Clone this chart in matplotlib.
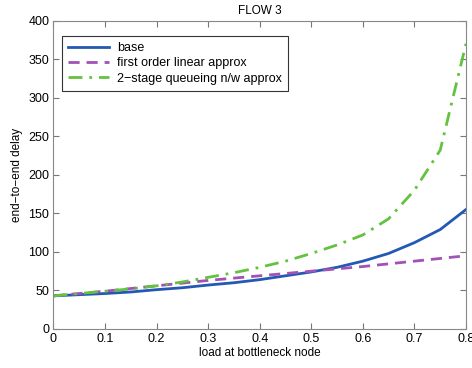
import matplotlib
matplotlib.use("Agg")
import matplotlib.pyplot as plt

plt.rcParams["font.family"] = ["Liberation Sans", "DejaVu Sans"]

load = [0.0, 0.05, 0.1, 0.15, 0.2, 0.25, 0.3, 0.35, 0.4, 0.45, 0.5, 0.55, 0.6, 0.65, 0.7, 0.75, 0.8]
base = [43, 44.5, 46, 48, 51, 53.5, 57, 60, 64, 69, 74, 80, 88, 98, 112, 129, 155]
linear = [43, 46, 49, 52.5, 56, 59.5, 63, 66, 69, 72, 75, 78, 81, 84.5, 88, 91.5, 95]
twostage = [43, 46, 49, 52, 56, 61, 67, 73, 80, 88, 98, 109, 122, 143, 180, 232, 370]

fig = plt.figure(figsize=(4.72, 3.68), dpi=100)
ax = fig.add_axes([0.1133, 0.106, 0.874, 0.838])

ax.plot(load, base, color="#2359b3", lw=2.0, label="base")
ax.plot(load, linear, color="#a251b5", lw=2.0, ls=(0, (4, 2.5)), label="first order linear approx")
ax.plot(load, twostage, color="#63c23f", lw=2.0, ls=(0, (5, 2.5, 1, 2.5)), label="2\u2212stage queueing n/w approx")

ax.set_xlim(0, 0.8)
ax.set_ylim(0, 400)
ax.set_xticks([0, 0.1, 0.2, 0.3, 0.4, 0.5, 0.6, 0.7, 0.8])
ax.set_xticklabels(["0", "0.1", "0.2", "0.3", "0.4", "0.5", "0.6", "0.7", "0.8"])
ax.set_yticks(range(0, 401, 50))
ax.tick_params(direction="in", top=True, right=True, length=4, labelsize=9, color="#777777", pad=3)
for s in ax.spines.values():
    s.set_color("#888888")
    s.set_linewidth(0.8)

ax.set_xlabel("load at bottleneck node", fontsize=8.5, labelpad=1)
ax.set_ylabel("end\u2212to\u2212end delay", fontsize=8.5, labelpad=4)
ax.set_title("FLOW 3", fontsize=8.5, pad=5)

leg = ax.legend(loc="upper left", fontsize=9, handlelength=3.3, handletextpad=0.6, frameon=True,
                fancybox=False, edgecolor="black", bbox_to_anchor=(0.02, 0.95), borderaxespad=0,
                labelspacing=0.25, borderpad=0.5)
leg.get_frame().set_linewidth(0.8)

fig.savefig("out.png", dpi=100)
